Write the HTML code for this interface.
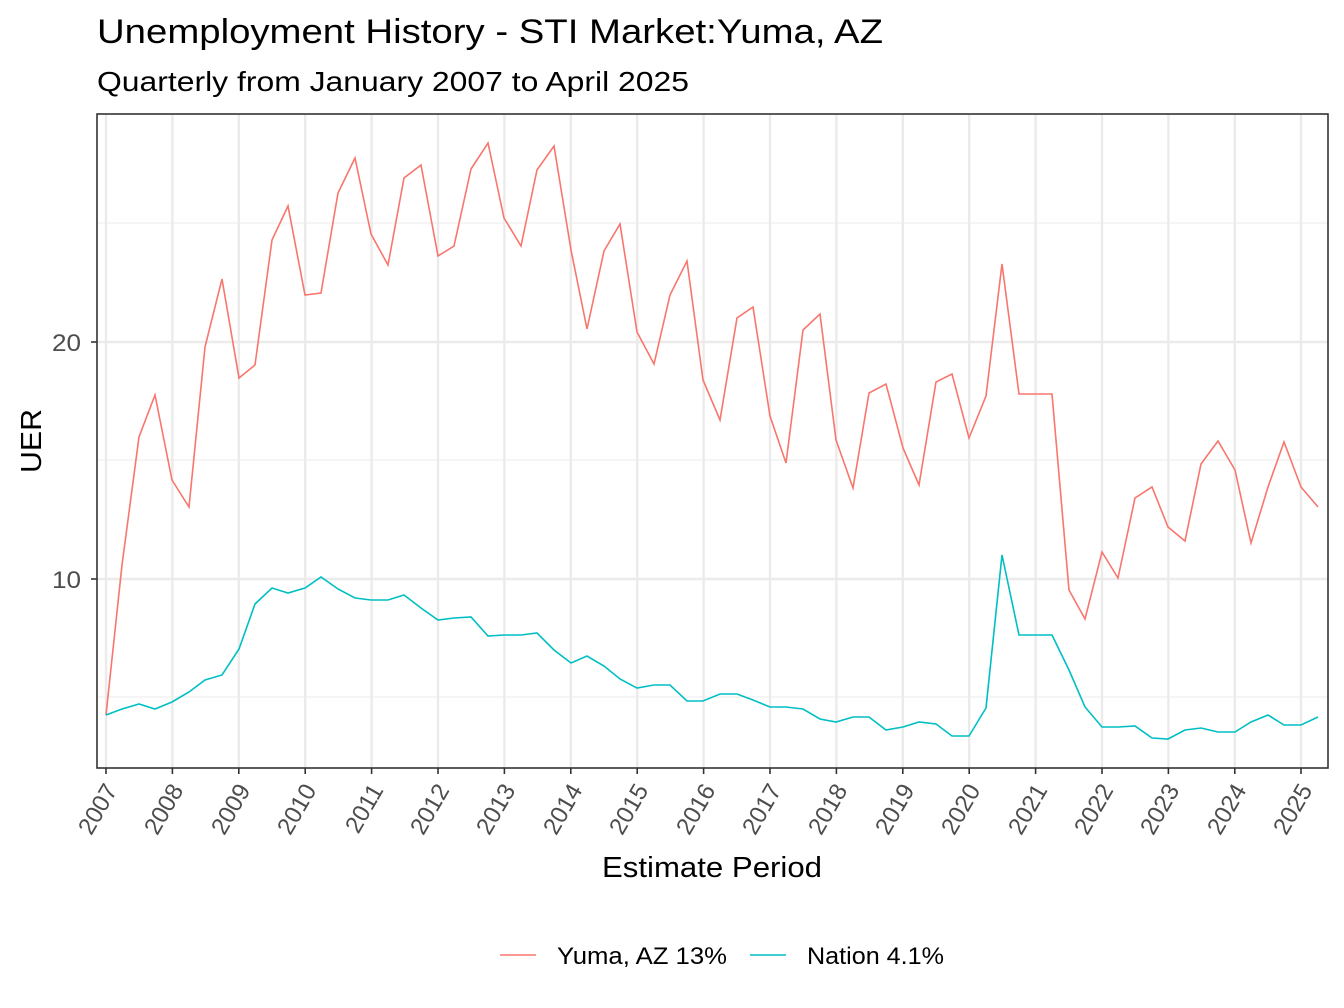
<!DOCTYPE html>
<html><head><style>body{margin:0;background:#fff}svg{display:block}text{font-family:"Liberation Sans",sans-serif}</style></head><body>
<svg width="1344" height="1008" xmlns="http://www.w3.org/2000/svg">
<text x="97" y="43" font-size="34" fill="#000" textLength="786" lengthAdjust="spacingAndGlyphs">Unemployment History - STI Market:Yuma, AZ</text>
<text x="97" y="91" font-size="28" fill="#000" textLength="592" lengthAdjust="spacingAndGlyphs">Quarterly from January 2007 to April 2025</text>
<g stroke="#ebebeb" stroke-width="1">
<line x1="97" x2="1328" y1="223" y2="223"/><line x1="97" x2="1328" y1="460" y2="460"/><line x1="97" x2="1328" y1="697" y2="697"/>
</g>
<g stroke="#ebebeb" stroke-width="2.4">
<line x1="97" x2="1328" y1="342" y2="342"/><line x1="97" x2="1328" y1="579" y2="579"/>
<line x1="106" x2="106" y1="114" y2="768"/><line x1="172.4" x2="172.4" y1="114" y2="768"/><line x1="238.8" x2="238.8" y1="114" y2="768"/><line x1="305.2" x2="305.2" y1="114" y2="768"/><line x1="371.6" x2="371.6" y1="114" y2="768"/><line x1="438" x2="438" y1="114" y2="768"/><line x1="504.4" x2="504.4" y1="114" y2="768"/><line x1="570.8" x2="570.8" y1="114" y2="768"/><line x1="637.2" x2="637.2" y1="114" y2="768"/><line x1="703.6" x2="703.6" y1="114" y2="768"/><line x1="770" x2="770" y1="114" y2="768"/><line x1="836.4" x2="836.4" y1="114" y2="768"/><line x1="902.8" x2="902.8" y1="114" y2="768"/><line x1="969.2" x2="969.2" y1="114" y2="768"/><line x1="1035.6" x2="1035.6" y1="114" y2="768"/><line x1="1102" x2="1102" y1="114" y2="768"/><line x1="1168.4" x2="1168.4" y1="114" y2="768"/><line x1="1234.8" x2="1234.8" y1="114" y2="768"/><line x1="1301" x2="1301" y1="114" y2="768"/>
</g>
<polyline fill="none" stroke="#F8766D" stroke-width="1.6" points="106,715 122,565 139,437 155,395 172,480 189,507 205,347 222,279 239,378 255,365 272,240 288,206 305,295 321,293 338,193 355,158 371,234 388,265 404,178 421,165 438,256 454,246 471,169 488,143 504,218 521,246 537,170 554,146 571,250 587,329 604,251 620,224 637,332 654,364 670,295 687,261 703,380 720,420 737,318 753,307 770,416 786,463 803,330 820,314 836,440 853,488 869,393 886,384 903,448 919,485 936,382 952,374 969,438 986,396 1002,264 1019,394 1035,394 1052,394 1069,590 1085,619 1102,552 1118,578 1135,498 1152,487 1168,527 1185,541 1201,464 1218,441 1235,470 1251,543 1268,487 1284,442 1301,487 1318,507"/>
<polyline fill="none" stroke="#00BFC4" stroke-width="1.6" points="106,715 122,709 139,704 155,709 172,702 189,692 205,680 222,675 239,649 255,604 272,588 288,593 305,588 321,577 338,589 355,598 371,600 388,600 404,595 421,608 438,620 454,618 471,617 488,636 504,635 521,635 537,633 554,650 571,663 587,656 604,666 620,679 637,688 654,685 670,685 687,701 703,701 720,694 737,694 753,700 770,707 786,707 803,709 820,719 836,722 853,717 869,717 886,730 903,727 919,722 936,724 952,736 969,736 986,708 1002,555 1019,635 1035,635 1052,635 1069,670 1085,707 1102,727 1118,727 1135,726 1152,738 1168,739 1185,730 1201,728 1218,732 1235,732 1251,722 1268,715 1284,725 1301,725 1318,717"/>
<rect x="97" y="114" width="1231" height="654" fill="none" stroke="#333" stroke-width="1.6"/>
<g stroke="#333" stroke-width="1.6"><line x1="91" x2="97" y1="342" y2="342"/><line x1="91" x2="97" y1="579" y2="579"/></g>
<text x="81" y="351" font-size="24" fill="#4d4d4d" text-anchor="end" textLength="29" lengthAdjust="spacingAndGlyphs">20</text>
<text x="81" y="588" font-size="24" fill="#4d4d4d" text-anchor="end" textLength="29" lengthAdjust="spacingAndGlyphs">10</text>
<text transform="translate(41,441) rotate(-90)" font-size="29" text-anchor="middle" textLength="64" lengthAdjust="spacingAndGlyphs">UER</text>
<g font-size="24" fill="#4d4d4d" text-anchor="end">
<text transform="translate(118,790) rotate(-60)">2007</text><text transform="translate(184,790) rotate(-60)">2008</text><text transform="translate(251,790) rotate(-60)">2009</text><text transform="translate(317,790) rotate(-60)">2010</text><text transform="translate(384,790) rotate(-60)">2011</text><text transform="translate(450,790) rotate(-60)">2012</text><text transform="translate(516,790) rotate(-60)">2013</text><text transform="translate(583,790) rotate(-60)">2014</text><text transform="translate(649,790) rotate(-60)">2015</text><text transform="translate(716,790) rotate(-60)">2016</text><text transform="translate(782,790) rotate(-60)">2017</text><text transform="translate(848,790) rotate(-60)">2018</text><text transform="translate(915,790) rotate(-60)">2019</text><text transform="translate(981,790) rotate(-60)">2020</text><text transform="translate(1048,790) rotate(-60)">2021</text><text transform="translate(1114,790) rotate(-60)">2022</text><text transform="translate(1180,790) rotate(-60)">2023</text><text transform="translate(1247,790) rotate(-60)">2024</text><text transform="translate(1313,790) rotate(-60)">2025</text>
</g>
<g stroke="#333" stroke-width="1.6">
<line x1="106" x2="106" y1="768" y2="774"/><line x1="172.4" x2="172.4" y1="768" y2="774"/><line x1="238.8" x2="238.8" y1="768" y2="774"/><line x1="305.2" x2="305.2" y1="768" y2="774"/><line x1="371.6" x2="371.6" y1="768" y2="774"/><line x1="438" x2="438" y1="768" y2="774"/><line x1="504.4" x2="504.4" y1="768" y2="774"/><line x1="570.8" x2="570.8" y1="768" y2="774"/><line x1="637.2" x2="637.2" y1="768" y2="774"/><line x1="703.6" x2="703.6" y1="768" y2="774"/><line x1="770" x2="770" y1="768" y2="774"/><line x1="836.4" x2="836.4" y1="768" y2="774"/><line x1="902.8" x2="902.8" y1="768" y2="774"/><line x1="969.2" x2="969.2" y1="768" y2="774"/><line x1="1035.6" x2="1035.6" y1="768" y2="774"/><line x1="1102" x2="1102" y1="768" y2="774"/><line x1="1168.4" x2="1168.4" y1="768" y2="774"/><line x1="1234.8" x2="1234.8" y1="768" y2="774"/><line x1="1301" x2="1301" y1="768" y2="774"/>
</g>
<text x="602" y="877" font-size="29" textLength="220" lengthAdjust="spacingAndGlyphs">Estimate Period</text>
<line x1="500" x2="536" y1="955" y2="955" stroke="#F8766D" stroke-width="1.6"/>
<text x="557" y="964" font-size="24" textLength="170" lengthAdjust="spacingAndGlyphs">Yuma, AZ 13%</text>
<line x1="750" x2="786" y1="955" y2="955" stroke="#00BFC4" stroke-width="1.6"/>
<text x="807" y="964" font-size="24" textLength="137" lengthAdjust="spacingAndGlyphs">Nation 4.1%</text>
</svg>
</body></html>
